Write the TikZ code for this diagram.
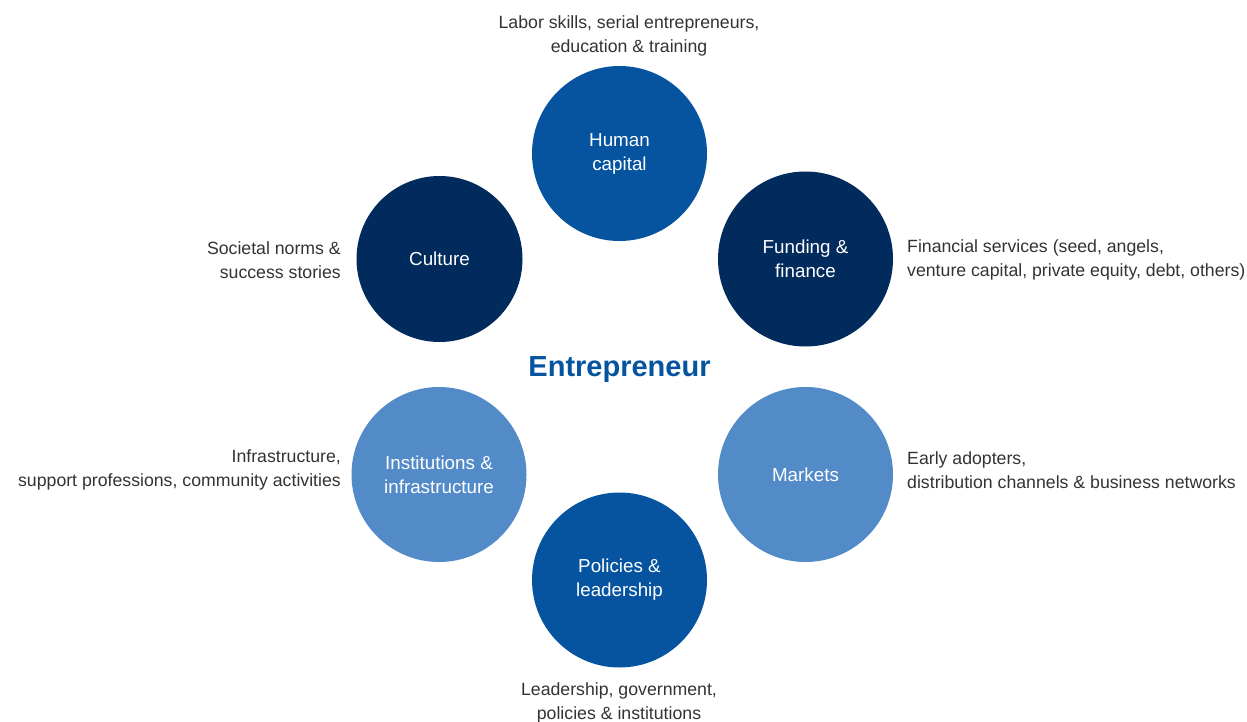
\documentclass[tikz,border=0pt]{standalone}
\usepackage{fontspec}
\setmainfont{Liberation Sans}
\definecolor{navy}{HTML}{012B5C}
\definecolor{midblue}{HTML}{0654A0}
\definecolor{lightblue}{HTML}{528BC8}
\definecolor{txtgray}{HTML}{333333}
\begin{document}
\begin{tikzpicture}[x=1pt,y=-1pt,
  bubble/.style={circle,inner sep=0pt,minimum size=175pt,text=white,align=center,
    font=\fontsize{18.8}{24}\selectfont},
  lab/.style={inner sep=0pt,text=txtgray,font=\fontsize{17.7}{24}\selectfont}]
\useasboundingbox (0,0) rectangle (1247,722);
\node[bubble,fill=midblue] (human) at (619.5,153.5) {Human\\capital};
\node[bubble,fill=navy,minimum size=166pt] (culture) at (439.5,259) {Culture};
\node[bubble,fill=navy] (funding) at (805.5,259) {Funding \&\\finance};
\node[bubble,fill=lightblue] (inst) at (439,474.5) {Institutions \&\\infrastructure};
\node[bubble,fill=lightblue] (markets) at (805.5,474.5) {Markets};
\node[bubble,fill=midblue] (policies) at (619.5,580) {Policies \&\\leadership};
\node[text=midblue,font=\bfseries\fontsize{29}{32}\selectfont] (entre) at (619.5,370) {Entrepreneur};
\node[lab,align=center] (humanlab) at (629,36) {Labor skills, serial entrepreneurs,\\education \& training};
\node[lab,align=right,anchor=east] (culturelab) at (341,260) {Societal norms \&\\success stories};
\node[lab,align=left,anchor=west] (fundinglab) at (907,260) {Financial services (seed, angels,\\venture capital, private equity, debt, others)};
\node[lab,align=right,anchor=east] (instlab) at (341,470) {Infrastructure,\\support professions, community activities};
\node[lab,align=left,anchor=west] (marketslab) at (907,470) {Early adopters,\\distribution channels \& business networks};
\node[lab,align=center] (policieslab) at (619,703) {Leadership, government,\\policies \& institutions};
\end{tikzpicture}
\end{document}
